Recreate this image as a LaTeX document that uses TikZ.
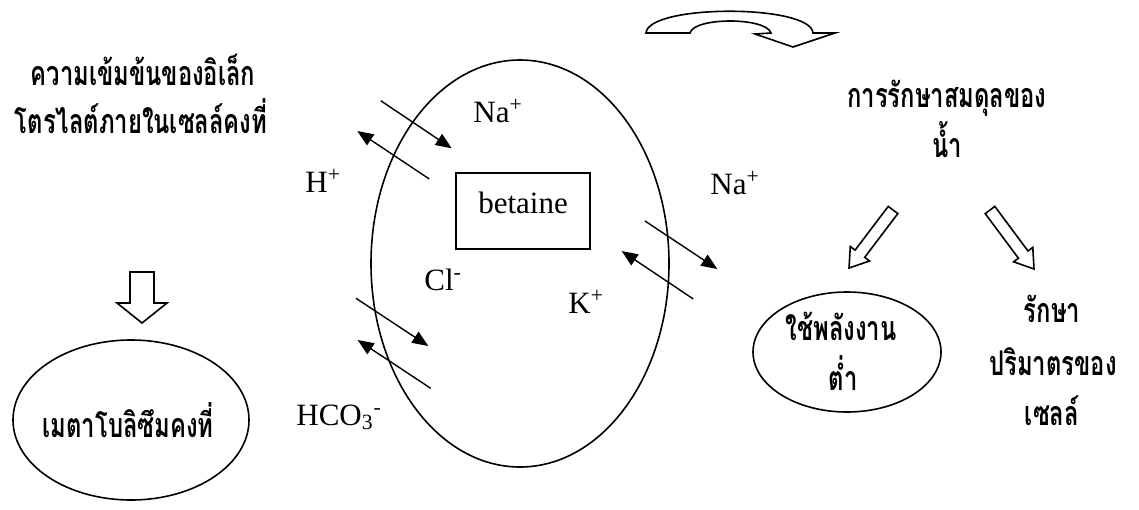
\documentclass[tikz,border=0pt]{standalone}
\usepackage{fontspec}
\setmainfont{Liberation Serif}
\newfontfamily\thaifont[Script=Thai,FakeStretch=0.7]{Loma}
\usetikzlibrary{shapes.geometric, arrows.meta}

\begin{document}
\begin{tikzpicture}[x=0.5pt, y=-0.5pt,
    every node/.style={font=\fontsize{15.5}{18}\selectfont, inner sep=0pt},
    ion/.style={anchor=base west},
    thai/.style={font=\thaifont\bfseries\fontsize{17}{20}\selectfont, anchor=base},
    oval/.style={ellipse, draw, line width=0.8pt},
    box/.style={rectangle, draw, line width=0.8pt, minimum width=67pt, minimum height=38pt, text height=11pt, text depth=8.5pt},
    flux/.style={-{Triangle[length=8pt,width=6.5pt]}, line width=0.7pt},
    hollow/.style={draw, line width=0.8pt, line join=miter, fill=white}
]
\useasboundingbox (0,0) rectangle (1139,509);

% left side
\node[thai] (conc1) at (143,85) {ความเข้มข้นของอิเล็ก};
\node[thai] (conc2) at (141,133) {โตรไลต์ภายในเซลล์คงที่};
\draw[hollow] (130,272) -- (154,272) -- (154,303) -- (167,303) -- (142,323)
    -- (117,303) -- (130,303) -- cycle;
\node[oval, minimum width=118pt, minimum height=80pt] (meta) at (131,420) {};
\node[thai] (metatxt) at (128,437) {เมตาโบลิซึมคงที่};

% the cell
\node[oval, minimum width=149pt, minimum height=203.5pt] (cell) at (520,263.5) {};
\node[box] (bet) at (523,211) {betaine};
\node[ion] (nain) at (473,122) {Na\textsuperscript{+}};
\node[ion] (h) at (305,192) {H\textsuperscript{+}};
\node[ion] (cl) at (424,290) {Cl\textsuperscript{-}};
\node[ion] (k) at (568,313) {K\textsuperscript{+}};
\node[ion] (hco) at (296,425) {HCO\textsubscript{3}\textsuperscript{-}};
\node[ion] (naout) at (710,194) {Na\textsuperscript{+}};

% exchangers across the membrane
\draw[flux] (380.7,100.7) -- (451.7,148.3);
\draw[flux] (429.3,179) -- (357.3,131);
\draw[flux] (356,298.3) -- (428.3,346);
\draw[flux] (430.7,388.3) -- (357.7,340);
\draw[flux] (645,221) -- (717.3,269);
\draw[flux] (693.3,299) -- (621.7,251);

% curved arrow on top
\draw[hollow] (646,33) .. controls (648,4) and (811,4) .. (813,33) -- (835,33)
    -- (793,47) -- (755,34) -- (771,33) .. controls (766,17) and (694,17) .. (690,33)
    -- cycle;

% right side
\node[thai] (water1) at (947,107) {การรักษาสมดุลของ};
\node[thai] (water2) at (947,157) {น้ำ};
\draw[hollow] (888.2,206.4) -- (855.1,250.1) -- (850.3,246.5) -- (849,268)
    -- (869.5,261) -- (864.7,257.3) -- (897.8,213.6) -- cycle;
\draw[hollow] (985.2,213.6) -- (1018.4,258.2) -- (1013.6,261.8) -- (1034,269)
    -- (1032.8,247.4) -- (1028,251) -- (994.8,206.4) -- cycle;
\node[oval, minimum width=94pt, minimum height=60pt] (energy) at (847,352) {};
\node[thai] (energy1) at (841,340) {ใช้พลังงาน};
\node[thai] (energy2) at (843,390) {ต่ำ};
\node[thai] (vol1) at (1052,322) {รักษา};
\node[thai] (vol2) at (1053,375) {ปริมาตรของ};
\node[thai] (vol3) at (1052,425) {เซลล์};
\end{tikzpicture}
\end{document}
